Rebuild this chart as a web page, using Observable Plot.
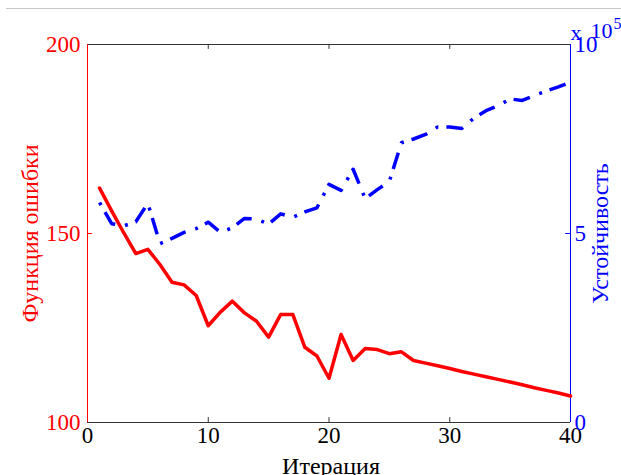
<!DOCTYPE html>
<html><head><meta charset="utf-8">
<script src="https://cdn.jsdelivr.net/npm/d3@7"></script>
<script src="https://cdn.jsdelivr.net/npm/@observablehq/plot@0.6"></script>
<style>
body{margin:0;background:#fff;}
#wrap{position:relative;width:621px;height:475px;overflow:hidden;}
#topline{position:absolute;left:6px;right:0;top:8px;height:1px;background:#c8c8c8;}
</style>
</head><body>
<div id="wrap"><div id="topline"></div></div>
<script>
const iterations = [1,2,3,4,5,6,7,8,9,10,11,12,13,14,15,16,17,18,19,20,21,22,23,24,25,26,27,28,29,30,31,32,33,34,35,36,37,38,39,40];
const errorFn = [162.0,156.0,150.2,144.7,145.8,141.8,137.1,136.4,133.6,125.6,129.2,132.1,129.0,126.8,122.6,128.6,128.6,119.9,117.6,111.7,123.3,116.4,119.6,119.3,118.2,118.7,116.4,115.7,115.0,114.3,113.5,112.8,112.1,111.4,110.7,110.0,109.2,108.5,107.8,107.0];
const stability = [5.82,5.26,5.2,5.31,5.8,4.73,4.87,5.03,5.13,5.3,5.03,5.15,5.4,5.38,5.25,5.52,5.43,5.57,5.68,6.3,6.14,6.7,5.92,6.16,6.38,7.4,7.5,7.62,7.82,7.82,7.78,8.05,8.25,8.38,8.56,8.52,8.65,8.77,8.88,9.0];
const xTicks = [0,10,20,30,40];
const leftTicks = [100,150,200];
const rightTicks = [0,5,10];
const xLabel = "Итерация";
const leftLabel = "Функция ошибки";
const rightLabel = "Устойчивость";
const expPrefix = "x";
const expBase = "10";
const expPower = "5";

const RED = "#ff0000", BLUE = "#0000ff", AX = "#333333";
const toLeft = v => 100 + v * 10; // map right scale (x10^5) onto left scale
const errData = iterations.map((x, i) => ({x, y: errorFn[i]}));
const stabData = iterations.map((x, i) => ({x, y: toLeft(stability[i])}));

const chart = Plot.plot({
  width: 621, height: 475,
  marginLeft: 87, marginRight: 51, marginTop: 44, marginBottom: 53,
  style: {fontFamily: "'Liberation Serif', 'Times New Roman', serif", fontSize: "23px", background: "white", overflow: "visible"},
  x: {domain: [0, 40]},
  y: {domain: [100, 200]},
  marks: [
    Plot.axisX({ticks: xTicks, tickSize: 0, tickPadding: 4, color: "black", label: null, fontSize: 23}),
    Plot.axisY({ticks: leftTicks, tickSize: 0, tickPadding: 7, color: RED, label: null, anchor: "left", fontSize: 23}),
    Plot.axisY({ticks: rightTicks.map(toLeft), tickFormat: d => String((d - 100) / 10), tickSize: 0, tickPadding: 4, color: BLUE, label: null, anchor: "right", fontSize: 23}),
    // inward ticks
    Plot.ruleX(xTicks.slice(1, -1), {y1: 200, y2: 198.7, stroke: AX, strokeWidth: 1}),
    Plot.ruleX(xTicks.slice(1, -1), {y1: 100, y2: 101.3, stroke: AX, strokeWidth: 1}),
    Plot.ruleY([150], {x1: 0, x2: 0.4, stroke: RED, strokeWidth: 1}),
    Plot.ruleY([toLeft(5)], {x1: 40, x2: 39.6, stroke: BLUE, strokeWidth: 1}),
    // frame
    Plot.ruleY([200, 100], {stroke: AX, strokeWidth: 1}),
    Plot.ruleX([0], {stroke: RED, strokeWidth: 1}),
    Plot.ruleX([40], {stroke: BLUE, strokeWidth: 1}),
    // data
    Plot.line(errData, {x: "x", y: "y", stroke: RED, strokeWidth: 3.5, strokeLinejoin: "round"}),
    Plot.line(stabData, {x: "x", y: "y", stroke: BLUE, strokeWidth: 3.5, strokeDasharray: "3,8,17,10", strokeLinecap: "butt"}),
    // labels
    Plot.text([xLabel], {frameAnchor: "bottom", dx: 2, dy: 44, lineAnchor: "middle", fill: "black", fontSize: 24}),
    Plot.text([leftLabel], {frameAnchor: "left", dx: -57, rotate: -90, lineAnchor: "middle", textAnchor: "middle", fill: RED, fontSize: 24}),
    Plot.text([rightLabel], {frameAnchor: "right", dx: 30, rotate: -90, lineAnchor: "middle", textAnchor: "middle", fill: BLUE, fontSize: 24}),
    Plot.text([expPrefix], {frameAnchor: "top-right", dx: 0, dy: -5, textAnchor: "start", lineAnchor: "bottom", fill: BLUE, fontSize: 22}),
    Plot.text([expBase], {frameAnchor: "top-right", dx: 20, dy: -7, textAnchor: "start", lineAnchor: "bottom", fill: BLUE, fontSize: 22}),
    Plot.text([expPower], {frameAnchor: "top-right", dx: 43, dy: -16, textAnchor: "start", lineAnchor: "bottom", fill: BLUE, fontSize: 16})
  ]
});
document.getElementById("wrap").appendChild(chart);
</script>
</body></html>
